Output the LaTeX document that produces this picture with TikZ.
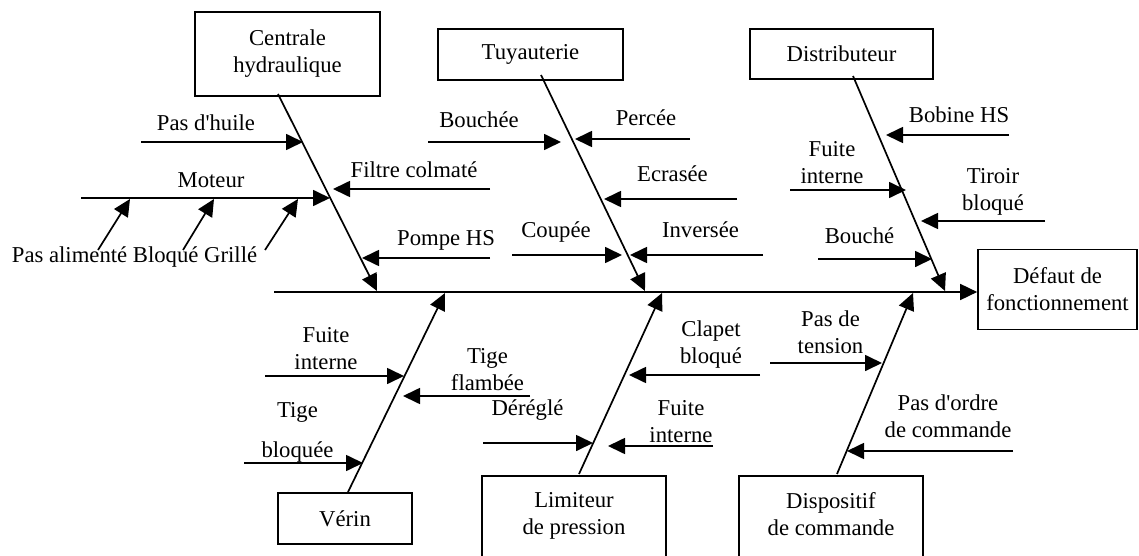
\documentclass[tikz,border=0pt]{standalone}
\usepackage{fontspec}
\setmainfont{Liberation Serif}
\usetikzlibrary{arrows.meta}

\tikzset{
  box/.style={draw, line width=1.7pt, inner sep=0pt, align=center},
  cause/.style={line width=1.7pt, -{Triangle[length=17pt, width=16pt]}},
  lbl/.style={anchor=base, inner sep=0pt, align=center},
}

\begin{document}
\begin{tikzpicture}[x=1pt, y=-1pt, font=\fontsize{22.7}{27}\selectfont]
  \clip (0,0) rectangle (1139,556);

  % boxes
  \node (centrale) [box, minimum width=185pt, minimum height=84pt] at (287.5,54) {Centrale\\hydraulique};
  \node (tuyau) [box, minimum width=185pt, minimum height=51pt] at (530.5,54.5) {Tuyauterie};
  \node (distrib) [box, minimum width=183pt, minimum height=50pt] at (841.5,54) {Distributeur};
  \node (defaut) [box, minimum width=159pt, minimum height=80pt] at (1057.5,289.5) {D\'efaut de\\fonctionnement};
  \node (verin) [box, minimum width=134pt, minimum height=51pt] at (345,518.5) {V\'erin};
  \node (limiteur) [box, anchor=north, minimum width=184pt, minimum height=110pt] at (574,475) {};
  \node (limiteur-txt) [lbl] at (574,534) {Limiteur\\de pression};
  \node (dispo) [box, anchor=north, minimum width=184pt, minimum height=110pt] at (831,475) {};
  \node (dispo-txt) [lbl] at (831,535) {Dispositif\\de commande};

  % spine and bones
  \coordinate (spine) at (274,292);
  \draw[cause] (spine) -- (spine -| defaut.west);
  \foreach \n/\xa/\ya/\xb/\yb in {cen/278/94/377/291, tuy/541/75/645/291, dis/853/76/945/291,
      ver/348/492/445/293, lim/579/474/662/293, dsp/837/474/913/293}{
    \coordinate (\n-top) at (\xa,\ya);
    \coordinate (\n-tip) at (\xb,\yb);
    \draw[cause] (\n-top) -- (\n-tip);
  }

  % causes
  \foreach \n/\xa/\xb/\y in {huile/141/303/142, moteur/81/330/198, filtre/490/333/189, pompe/490/362/258,
      bouchee/428/561/142, percee/690/575/139, ecrasee/737/604/199, coupee/512/622/255, inversee/763/630/255,
      bobine/1009/886/135, fuited/790/906/190, tiroir/1045/921/221, bouche/818/932/259,
      fuitev/265/404/376, flambee/530/403/396, tigebl/244/363/463,
      deregle/483/593/443, fuitel/713/608/446, clapet/760/629/375,
      tension/770/882/363, ordre/1013/847/451}{
    \coordinate (\n-s) at (\xa,\y);
    \coordinate (\n-t) at (\xb,\y);
    \draw[cause] (\n-s) -- (\n-t);
  }
  % sub-causes of the motor
  \foreach \i/\xa/\xb in {1/98/130, 2/183/214, 3/265/298}{
    \coordinate (mot\i-s) at (\xa,250);
    \coordinate (mot\i-t) at (\xb,199);
    \draw[cause] (mot\i-s) -- (mot\i-t);
  }

  % labels (base = last line)
  \node (huile-l) [lbl] at (206,131) {Pas d\textquotesingle huile};
  \node (moteur-l) [lbl] at (211,187) {Moteur};
  \node (mot-l) [lbl] at (134.5,262) {Pas aliment\'e Bloqu\'e Grill\'e};
  \node (filtre-l) [lbl] at (414,177) {Filtre colmat\'e};
  \node (pompe-l) [lbl] at (446,245) {Pompe HS};
  \node (bouchee-l) [lbl] at (479,128) {Bouch\'ee};
  \node (percee-l) [lbl] at (646,126) {Perc\'ee};
  \node (ecrasee-l) [lbl] at (672.5,182) {Ecras\'ee};
  \node (coupee-l) [lbl] at (556,237) {Coup\'ee};
  \node (inversee-l) [lbl] at (700.5,237) {Invers\'ee};
  \node (bobine-l) [lbl] at (959,123) {Bobine HS};
  \node (fuited-l) [lbl] at (832,183) {Fuite\\interne};
  \node (tiroir-l) [lbl] at (993,210) {Tiroir\\bloqu\'e};
  \node (bouche-l) [lbl] at (859.5,243) {Bouch\'e};
  \node (fuitev-l) [lbl] at (326,369) {Fuite\\interne};
  \node (flambee-l) [lbl] at (487.5,390) {Tige\\flamb\'ee};
  \node (tigebl-l) [lbl] at (297.5,457) {Tige\\[13pt]bloqu\'ee};
  \node (deregle-l) [lbl] at (527.5,415) {D\'er\'egl\'e};
  \node (fuitel-l) [lbl] at (681,442) {Fuite\\interne};
  \node (clapet-l) [lbl] at (711,363) {Clapet\\bloqu\'e};
  \node (tension-l) [lbl] at (830.5,353) {Pas de\\tension};
  \node (ordre-l) [lbl] at (948,437) {Pas d\textquotesingle ordre\\de commande};
\end{tikzpicture}
\end{document}
